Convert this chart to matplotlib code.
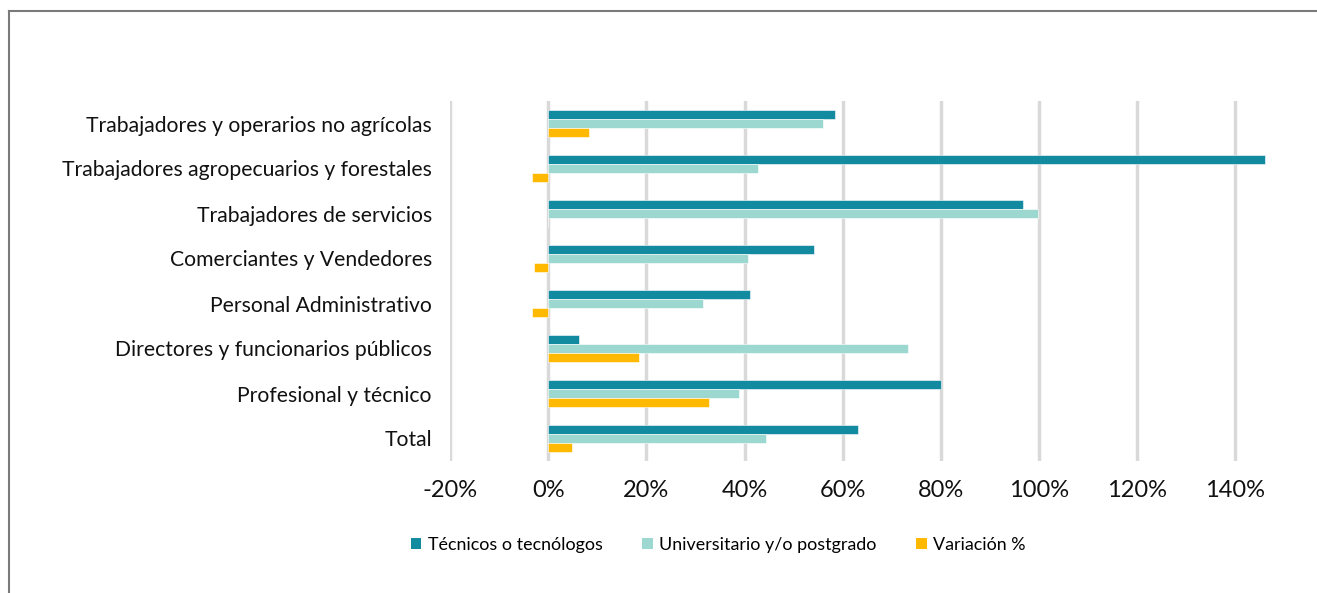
import matplotlib.pyplot as plt
import numpy as np
from matplotlib.lines import Line2D
from matplotlib.patches import Patch

# Categories top to bottom, values in percent
CATEGORIES = [
    "Trabajadores y operarios no agrícolas",
    "Trabajadores agropecuarios y forestales",
    "Trabajadores de servicios",
    "Comerciantes y Vendedores",
    "Personal Administrativo",
    "Directores y funcionarios públicos",
    "Profesional y técnico",
    "Total",
]
TECNICOS      = [58.5, 146.0, 96.8, 54.2, 41.1, 6.3, 80.0, 63.1]
UNIVERSITARIO = [55.9, 42.8, 99.7, 40.8, 31.5, 73.3, 38.8, 44.3]
VARIACION     = [8.4, -3.3, 0.0, -2.9, -3.3, 18.5, 32.7, 4.8]

SERIES = [
    ("Técnicos o tecnólogos", TECNICOS, "#128AA0"),
    ("Universitario y/o postgrado", UNIVERSITARIO, "#9CD8D0"),
    ("Variación %", VARIACION, "#FFB900"),
]
XTICKS = [-20, 0, 20, 40, 60, 80, 100, 120, 140]

plt.rcParams["font.family"] = ["Lato", "DejaVu Sans"]

W, H = 1317, 593
fig = plt.figure(figsize=(W / 100, H / 100), dpi=100)
ax = fig.add_axes([450 / W, 1 - 461 / H, (1284.5 - 450) / W, 360 / H])

y = np.arange(len(CATEGORIES))
bar_h = 0.2
for i, (label, vals, color) in enumerate(SERIES):
    ax.barh(y + (i - 1) * bar_h, vals, height=bar_h, color=color,
            edgecolor="white", linewidth=0.4, label=label, zorder=3)

ax.set_xlim(-20, 150)
ax.set_ylim(len(CATEGORIES) - 0.5, -0.5)
ax.set_xticks(XTICKS)
ax.set_xticklabels([f"{t}%" for t in XTICKS], fontsize=17, color="#111111")
ax.set_yticks(y)
ax.set_yticklabels(CATEGORIES, fontsize=15.2, color="#111111")
ax.tick_params(axis="both", length=0)
ax.tick_params(axis="y", pad=13)
ax.tick_params(axis="x", pad=14)
ax.grid(axis="x", color="#D9D9D9", linewidth=2.5, zorder=0)
for s in ax.spines.values():
    s.set_visible(False)

handles = [Patch(facecolor=c, edgecolor="none", label=l) for l, _, c in SERIES]
fig.legend(handles=handles, loc="center", bbox_to_anchor=(718 / W, 1 - 545 / H),
           ncol=3, frameon=False, fontsize=12.9, handlelength=0.6, handleheight=0.6,
           handletextpad=0.35, columnspacing=2.2)

# chart-area border (left and top only visible)
fig.add_artist(Line2D([9 / W, 9 / W], [0, 1 - 11 / H], color="#7A7A7A", lw=1.5,
                      transform=fig.transFigure))
fig.add_artist(Line2D([9 / W, 1], [1 - 11 / H, 1 - 11 / H], color="#7A7A7A", lw=1.5,
                      transform=fig.transFigure))

fig.savefig("out.png", dpi=100)
